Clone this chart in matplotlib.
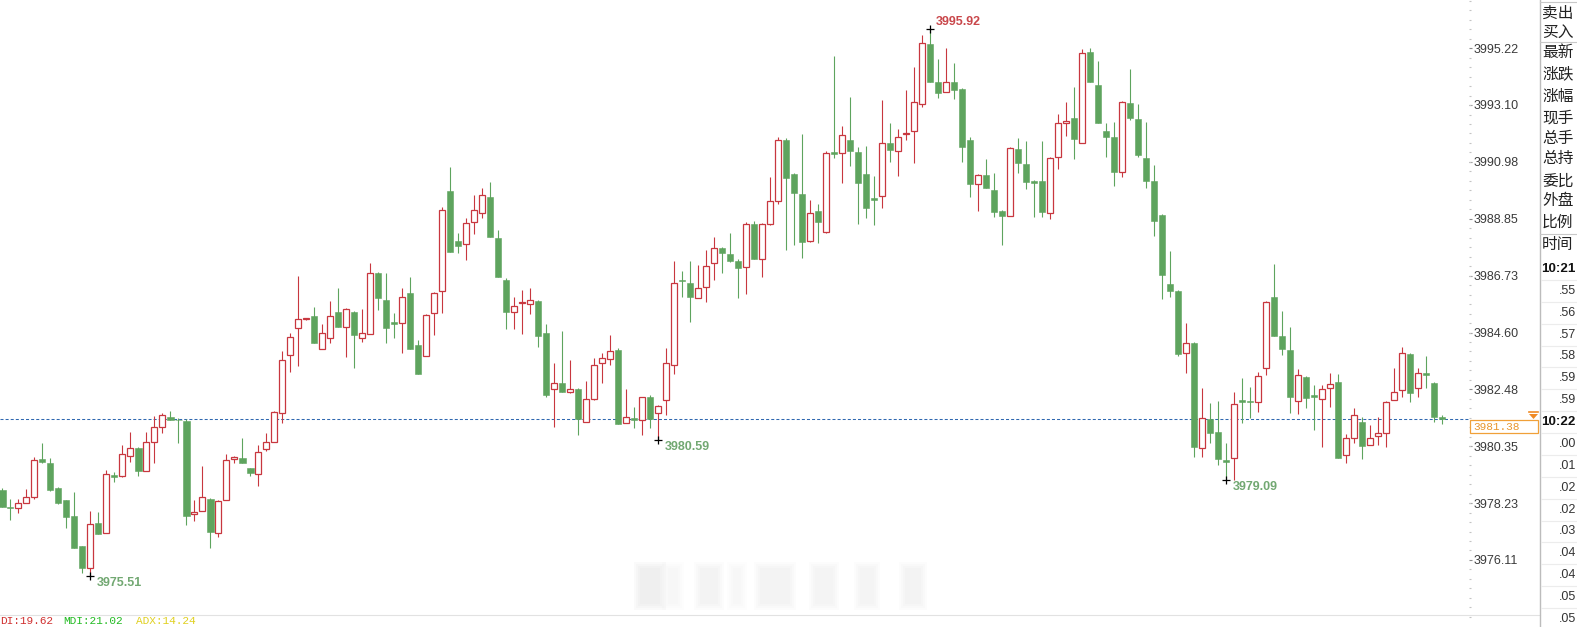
import matplotlib
matplotlib.use("Agg")
from matplotlib import pyplot as plt
from matplotlib.patches import Rectangle, Polygon
from matplotlib.lines import Line2D
import numpy as np

plt.rcParams["font.family"] = ["Liberation Sans", "Noto Sans CJK SC", "DejaVu Sans"]

# OHLC, one row per bar (open, high, low, close)
opens = [
    3978.72, 3978.06, 3978.05, 3978.24, 3978.46, 3979.88, 3979.73, 3978.80, 3978.35, 3977.75,
    3976.63, 3975.81, 3977.49, 3977.12, 3979.28, 3979.25, 3979.99, 3980.29, 3979.43, 3980.52,
    3981.08, 3981.45, 3981.34, 3981.30, 3977.83, 3977.94, 3978.39, 3977.12, 3978.35, 3979.88,
    3979.92, 3979.54, 3979.32, 3980.25, 3980.52, 3981.60, 3983.76, 3984.77, 3985.10, 3985.22,
    3983.99, 3984.40, 3985.37, 3984.81, 3985.37, 3984.40, 3984.55, 3986.83, 3985.82, 3985.00,
    3984.96, 3986.08, 3984.14, 3983.73, 3985.33, 3986.15, 3989.89, 3988.02, 3987.91, 3988.73,
    3989.07, 3989.66, 3988.13, 3986.57, 3985.37, 3985.71, 3985.67, 3985.78, 3984.59, 3982.49,
    3982.72, 3982.38, 3982.49, 3981.26, 3982.12, 3983.47, 3983.61, 3983.95, 3981.23, 3981.41,
    3981.34, 3982.20, 3981.60, 3982.08, 3983.39, 3986.57, 3986.45, 3985.89, 3986.30, 3987.20,
    3987.76, 3987.54, 3987.27, 3987.05, 3988.66, 3987.35, 3988.66, 3989.51, 3991.79, 3990.52,
    3989.78, 3988.02, 3989.14, 3988.36, 3991.34, 3991.31, 3991.79, 3991.34, 3990.52, 3989.63,
    3989.70, 3991.68, 3991.38, 3992.02, 3992.13, 3993.14, 3995.38, 3993.96, 3993.58, 3993.96,
    3993.70, 3991.79, 3990.15, 3990.49, 3989.93, 3989.14, 3988.95, 3991.46, 3990.90, 3990.26,
    3990.26, 3989.07, 3991.16, 3992.43, 3992.61, 3991.68, 3995.08, 3993.85, 3992.13, 3991.90,
    3990.60, 3993.17, 3992.58, 3991.12, 3990.26, 3988.99, 3986.42, 3986.15, 3983.84, 3984.21,
    3980.29, 3981.37, 3980.89, 3979.84, 3979.92, 3982.08, 3982.05, 3982.01, 3983.28, 3985.93,
    3984.47, 3983.95, 3982.05, 3982.94, 3982.27, 3982.12, 3982.53, 3982.76, 3980.03, 3980.67,
    3981.26, 3980.40, 3980.74, 3980.85, 3982.08, 3982.46, 3983.80, 3982.53, 3983.09, 3982.72,
    3981.45,
]
highs = [
    3978.80, 3978.39, 3978.39, 3978.76, 3979.96, 3980.48, 3979.92, 3978.84, 3978.35, 3978.65,
    3976.63, 3977.94, 3977.90, 3979.47, 3979.40, 3980.40, 3980.89, 3980.33, 3980.89, 3981.49,
    3981.60, 3981.67, 3981.41, 3981.37, 3978.35, 3979.62, 3978.42, 3978.35, 3980.07, 3979.99,
    3980.67, 3979.54, 3980.40, 3980.85, 3981.67, 3983.91, 3984.59, 3986.71, 3985.15, 3985.56,
    3984.92, 3985.78, 3986.27, 3985.52, 3985.41, 3985.48, 3987.20, 3986.86, 3986.83, 3985.33,
    3986.27, 3986.68, 3984.32, 3985.30, 3986.12, 3989.29, 3990.78, 3988.32, 3988.88, 3989.74,
    3990.00, 3990.22, 3988.43, 3986.64, 3985.93, 3986.19, 3986.27, 3985.82, 3984.92, 3983.47,
    3984.66, 3983.58, 3982.53, 3982.79, 3983.65, 3983.84, 3984.51, 3984.03, 3982.49, 3981.82,
    3982.20, 3982.27, 3981.90, 3984.03, 3987.27, 3986.90, 3987.27, 3987.12, 3987.69, 3988.17,
    3987.80, 3988.32, 3987.35, 3988.73, 3988.77, 3988.69, 3990.41, 3991.90, 3991.87, 3990.56,
    3992.02, 3989.55, 3989.40, 3991.38, 3994.93, 3992.32, 3993.40, 3991.53, 3991.57, 3990.45,
    3993.29, 3992.43, 3992.20, 3993.66, 3994.52, 3995.71, 3995.92, 3994.82, 3995.23, 3994.67,
    3993.73, 3991.90, 3990.52, 3991.08, 3990.56, 3989.18, 3991.53, 3991.87, 3991.75, 3990.30,
    3991.75, 3991.16, 3992.76, 3993.21, 3993.77, 3995.19, 3995.23, 3994.74, 3992.43, 3992.46,
    3993.25, 3994.44, 3993.14, 3992.46, 3990.86, 3989.03, 3987.65, 3986.19, 3984.96, 3984.25,
    3982.53, 3981.97, 3982.05, 3980.48, 3982.38, 3982.91, 3982.57, 3983.13, 3985.78, 3987.16,
    3985.41, 3984.81, 3983.24, 3982.98, 3982.64, 3982.64, 3983.09, 3983.05, 3980.81, 3981.79,
    3981.45, 3981.15, 3981.45, 3982.05, 3983.28, 3984.06, 3983.84, 3983.28, 3983.73, 3982.76,
    3981.52,
]
lows = [
    3978.09, 3977.60, 3977.86, 3978.24, 3978.39, 3979.73, 3978.69, 3978.20, 3977.30, 3976.56,
    3975.62, 3975.51, 3977.08, 3977.12, 3979.02, 3979.21, 3979.77, 3979.25, 3979.43, 3979.73,
    3980.85, 3981.34, 3980.48, 3977.42, 3977.57, 3977.94, 3976.56, 3976.97, 3978.35, 3979.73,
    3979.73, 3979.25, 3978.87, 3980.18, 3980.52, 3981.23, 3983.13, 3983.35, 3985.07, 3984.21,
    3983.99, 3984.21, 3984.81, 3983.69, 3983.28, 3984.25, 3984.55, 3985.45, 3984.21, 3984.40,
    3983.84, 3983.99, 3983.05, 3983.73, 3984.51, 3985.33, 3987.61, 3987.57, 3987.31, 3988.28,
    3988.88, 3988.17, 3986.68, 3984.74, 3984.74, 3984.55, 3985.30, 3984.06, 3982.20, 3981.08,
    3982.38, 3982.35, 3980.78, 3981.26, 3982.08, 3982.72, 3983.39, 3981.19, 3981.23, 3981.04,
    3980.78, 3981.04, 3980.59, 3981.52, 3983.05, 3985.93, 3985.00, 3985.89, 3985.74, 3986.57,
    3986.83, 3987.24, 3985.89, 3986.04, 3987.35, 3986.68, 3988.62, 3989.40, 3987.69, 3987.87,
    3987.39, 3987.98, 3987.95, 3988.32, 3991.12, 3990.19, 3990.82, 3988.66, 3988.88, 3988.62,
    3989.25, 3990.97, 3990.45, 3991.79, 3990.93, 3993.02, 3993.96, 3993.36, 3993.58, 3993.32,
    3990.97, 3989.66, 3989.14, 3990.00, 3988.92, 3987.87, 3988.95, 3990.56, 3989.96, 3988.92,
    3988.92, 3988.84, 3990.71, 3991.94, 3991.08, 3991.68, 3993.96, 3992.43, 3991.16, 3990.07,
    3990.41, 3992.54, 3991.16, 3990.00, 3988.21, 3985.86, 3985.93, 3983.73, 3983.09, 3979.96,
    3979.96, 3980.48, 3979.66, 3979.09, 3979.10, 3981.23, 3981.41, 3981.64, 3983.02, 3984.47,
    3983.76, 3981.60, 3981.56, 3981.79, 3980.96, 3980.33, 3981.82, 3979.92, 3979.73, 3980.48,
    3979.88, 3980.40, 3980.40, 3980.33, 3982.08, 3982.20, 3982.01, 3982.20, 3982.53, 3981.26,
    3981.19,
]
closes = [
    3978.09, 3978.04, 3978.24, 3978.46, 3979.84, 3979.77, 3978.72, 3978.24, 3977.71, 3976.56,
    3975.81, 3977.45, 3977.08, 3979.32, 3979.21, 3980.07, 3980.29, 3979.43, 3980.52, 3981.08,
    3981.52, 3981.34, 3981.32, 3977.75, 3977.90, 3978.46, 3977.15, 3978.31, 3979.84, 3979.96,
    3979.73, 3979.36, 3980.14, 3980.52, 3981.64, 3983.58, 3984.44, 3985.11, 3985.12, 3984.21,
    3984.59, 3985.22, 3984.81, 3985.48, 3984.51, 3984.59, 3986.83, 3985.89, 3984.77, 3984.92,
    3985.93, 3983.99, 3983.05, 3985.26, 3986.08, 3989.18, 3987.61, 3987.83, 3988.69, 3989.18,
    3989.74, 3988.17, 3986.68, 3985.37, 3985.59, 3985.74, 3985.82, 3984.47, 3982.27, 3982.72,
    3982.38, 3982.49, 3981.37, 3982.12, 3983.39, 3983.65, 3983.91, 3981.19, 3981.45, 3981.34,
    3982.20, 3981.37, 3981.86, 3983.47, 3986.45, 3986.53, 3985.93, 3986.27, 3987.09, 3987.76,
    3987.57, 3987.27, 3987.01, 3988.66, 3987.35, 3988.66, 3989.51, 3991.79, 3990.37, 3989.81,
    3987.98, 3989.07, 3988.73, 3991.31, 3991.27, 3991.98, 3991.38, 3990.19, 3989.25, 3989.55,
    3991.68, 3991.42, 3991.90, 3992.05, 3993.21, 3995.41, 3993.96, 3993.55, 3993.96, 3993.66,
    3991.53, 3990.15, 3990.49, 3990.00, 3989.10, 3988.95, 3991.49, 3990.93, 3990.22, 3990.19,
    3989.10, 3991.12, 3992.43, 3992.50, 3991.83, 3995.04, 3993.96, 3992.43, 3991.90, 3990.60,
    3993.21, 3992.61, 3991.23, 3990.26, 3988.77, 3986.75, 3986.15, 3983.80, 3984.21, 3980.33,
    3981.41, 3980.85, 3979.88, 3979.77, 3981.93, 3982.01, 3982.01, 3982.98, 3985.74, 3984.47,
    3983.99, 3982.20, 3983.02, 3982.16, 3982.20, 3982.49, 3982.68, 3979.92, 3980.67, 3981.52,
    3980.37, 3980.67, 3980.85, 3982.01, 3982.38, 3983.84, 3982.35, 3983.09, 3983.02, 3981.45,
    3981.38,
]

last_price = 3981.38
price_ticks = [3995.22, 3993.10, 3990.98, 3988.85, 3986.73, 3984.60, 3982.48, 3980.35, 3978.23, 3976.11]
# bars whose extreme gets a price tag: (bar index, "high"/"low")
marked_bars = [(116, "high"), (11, "low"), (82, "low"), (153, "low")]

quote_fields = ["卖出", "买入", "最新", "涨跌", "涨幅", "现手", "总手", "总持", "委比", "外盘", "比例"]
tick_times = ["10:21", ".55", ".56", ".57", ".58", ".59", ".59", "10:22",
              ".00", ".01", ".02", ".02", ".03", ".04", ".04", ".05", ".05"]
indicators = [("DI", 19.62), ("MDI", 21.02), ("ADX", 14.24)]

RED = "#c8373f"
GREEN = "#5ea45e"
W, H = 1577, 627


def fx(px):
    return px / W


def fy(py):
    return 1 - py / H


fig = plt.figure(figsize=(W / 100, H / 100), dpi=100)
fig.patch.set_facecolor("white")

# main candle area (pixel box 0..1469 x 0..618)
ax = fig.add_axes([0, fy(618), fx(1469), 618 / H])
ylo, yhi = 3997.02 - 618 / 26.78, 3997.02
for s in ax.spines.values():
    s.set_visible(False)
ax.set_xticks([])

o = np.array(opens)
h = np.array(highs)
l = np.array(lows)
c = np.array(closes)
x = np.arange(len(o))
up = c > o
dn = ~up
body_lo = np.minimum(o, c)
body_h = np.maximum(np.abs(c - o), 0.035)

ax.vlines(x[up], l[up], h[up], colors=RED, lw=0.8, zorder=2)
ax.vlines(x[dn], l[dn], h[dn], colors=GREEN, lw=0.8, zorder=2)
ax.bar(x[up], body_h[up], bottom=body_lo[up], width=0.72,
       facecolor="white", edgecolor=RED, linewidth=0.9, zorder=3)
ax.bar(x[dn], body_h[dn], bottom=body_lo[dn], width=0.8,
       facecolor=GREEN, edgecolor=GREEN, linewidth=0.4, zorder=3)

# last price line
ax.axhline(last_price, color="#3068b0", lw=0.75, ls=(0, (2.9, 2.0)), zorder=1)

# extreme price tags
for i, kind in marked_bars:
    val = h[i] if kind == "high" else l[i]
    ax.plot(i, val, marker="+", color="black", ms=5.5, mew=0.9, zorder=4)
    if kind == "high":
        ax.annotate(f"{val:.2f}", (i, val), xytext=(3.6, 5.6), textcoords="offset points",
                    ha="left", va="center", fontsize=9, fontweight="bold", color="#c9474b")
    else:
        ax.annotate(f"{val:.2f}", (i, val), xytext=(4.3, -5.2), textcoords="offset points",
                    ha="left", va="center", fontsize=9, fontweight="bold", color="#72a872")

# price scale on the right
ax.yaxis.tick_right()
ax.set_yticks(price_ticks)
ax.set_yticklabels([f"{t:.2f}" for t in price_ticks])
ax.tick_params(axis="y", which="major", length=2.4, width=0.8, color="#8a8a8a",
               pad=0.6, labelsize=9, labelcolor="#3a3a3a")
step = (price_ticks[0] - price_ticks[-1]) / (9 * 6)
minor = np.arange(price_ticks[-1] - 6 * step, price_ticks[0] + 5 * step, step)
minor = minor[(minor > ylo) & (minor < yhi)]
ax.set_yticks(minor, minor=True)
ax.tick_params(axis="y", which="minor", length=1.2, width=0.8, color="#c4c4c4")

# limits last, so tick setting cannot widen them
ax.set_xlim(-2.3 / 8, (1469 - 2.3) / 8)
ax.set_ylim(ylo, yhi)

# blurred watermark near the bottom
for bx, bw, a in [(640, 20, 0.9), (668, 10, 0.4), (700, 18, 0.6), (733, 8, 0.4),
                  (760, 30, 0.6), (815, 18, 0.5), (860, 14, 0.5), (905, 16, 0.6)]:
    for grow in range(4):
        fig.add_artist(Rectangle((fx(bx - 2 * grow), fy(604 + 2 * grow)), fx(bw + 4 * grow),
                                 (36 + 4 * grow) / H, transform=fig.transFigure,
                                 facecolor="#dcdcdc", edgecolor="none", alpha=0.14 * a))

# current price box
fig.add_artist(Rectangle((fx(1470), fy(433)), fx(68), 13 / H, transform=fig.transFigure,
                         facecolor="white", edgecolor="#f0a038", lw=0.9))
fig.text(fx(1473), fy(426.5), f"{last_price:.2f}", ha="left", va="center",
         fontsize=8, family="Liberation Mono", color="#e8962e")
fig.add_artist(Line2D([fx(1529), fx(1538)], [fy(411.5), fy(411.5)], transform=fig.transFigure,
                      color="#f08a24", lw=1.2))
fig.add_artist(Polygon([(fx(1529), fy(414)), (fx(1538), fy(414)), (fx(1533.5), fy(419))],
                       closed=True, transform=fig.transFigure, facecolor="#f08a24", edgecolor="none"))

# bottom separator and indicator readout
fig.add_artist(Line2D([0, fx(1540)], [fy(615), fy(615)], transform=fig.transFigure,
                      color="#e2e2e2", lw=0.8))
ind_colors = ["#d03030", "#22bb22", "#e0d020"]
ind_x = [0, 63, 136]
for (name, val), col, px in zip(indicators, ind_colors, ind_x):
    fig.text(fx(px), fy(626.5), f"{name}:{val:.2f}", ha="left", va="bottom",
             fontsize=8, color=col, family="Liberation Mono")

# right quote panel
fig.add_artist(Line2D([fx(1540), fx(1540)], [0, 1], transform=fig.transFigure,
                      color="#bcbcbc", lw=1.0))
for yy in [2, 42, 234]:
    fig.add_artist(Line2D([fx(1540), 1], [fy(yy), fy(yy)], transform=fig.transFigure,
                          color="#c8c8c8", lw=0.8))

quote_y = [13, 32, 53, 74, 96, 118, 139, 159, 181, 201, 222]
for label, yy in zip(quote_fields, quote_y):
    fig.text(fx(1542), fy(yy), label, ha="left", va="center", fontsize=11.3,
             color="#222222", family=["Noto Sans CJK SC", "DejaVu Sans"])
fig.text(fx(1542), fy(245), "时间", ha="left", va="center", fontsize=11.3,
         color="#222222", family=["Noto Sans CJK SC", "DejaVu Sans"])

row_h = (619 - 269) / (len(tick_times) - 1)
for j, t in enumerate(tick_times):
    yy = 269 + j * row_h
    if t.startswith("10:"):
        fig.text(fx(1541), fy(yy), t, ha="left", va="center", fontsize=9.6,
                 fontweight="bold", color="#111111")
    else:
        fig.text(fx(1576), fy(yy), t, ha="right", va="center", fontsize=9,
                 color="#333333")
    if j < len(tick_times) - 1:
        sep = yy + row_h / 2
        fig.add_artist(Line2D([fx(1541), 1], [fy(sep), fy(sep)], transform=fig.transFigure,
                              color="#ececec", lw=0.8))

plt.savefig("out.png", dpi=100)
